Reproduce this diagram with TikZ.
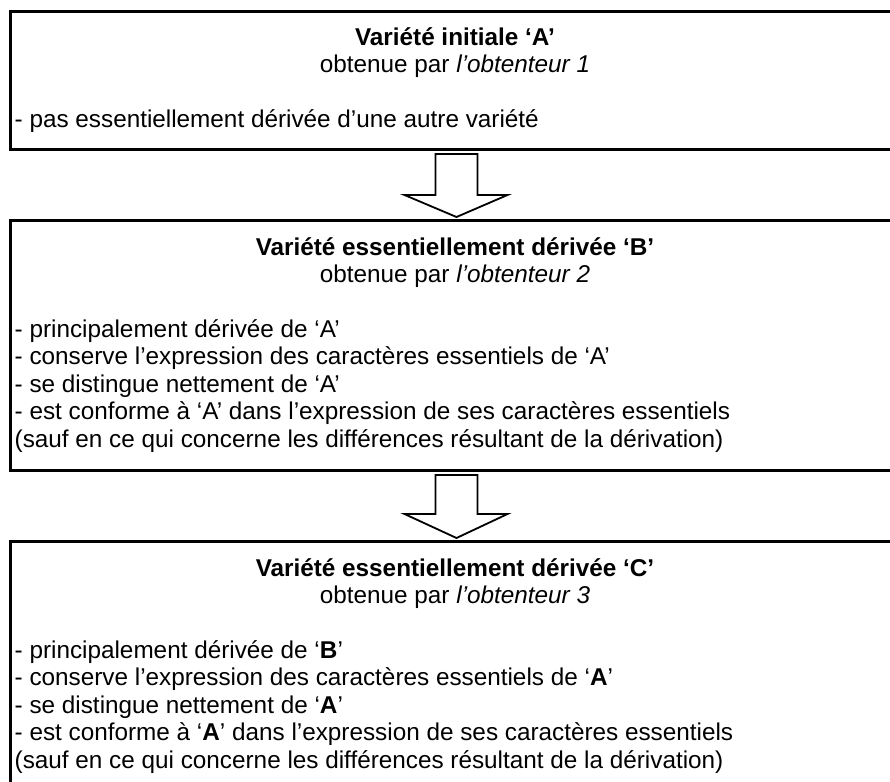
\documentclass[tikz,border=0pt]{standalone}
\usepackage{fontspec}
\setmainfont{Liberation Sans}
\usetikzlibrary{calc}
\tikzset{
  varbox/.style={draw=black, line width=3pt, rectangle, minimum width=892pt, anchor=north west, inner sep=0pt},
  ttl/.style={anchor=base, inner sep=0pt, font=\fontsize{24.3}{28}\selectfont\bfseries},
  sub/.style={anchor=base, inner sep=0pt, font=\fontsize{24.3}{28}\selectfont},
  line/.style={anchor=base west, inner sep=0pt, font=\fontsize{24.3}{28}\selectfont},
  blockarrow/.style={draw=black, line width=1.8pt, fill=white, line join=miter}
}
\begin{document}
\begin{tikzpicture}[x=1pt,y=-1pt]
\useasboundingbox (0,0) rectangle (890,781);
\clip (0,0) rectangle (890,781);
\fill[white] (0,0) rectangle (890,781);
% boxes
\node[varbox, minimum height=138pt] (A) at (9,10) {};
\node[varbox, minimum height=250pt] (B) at (9,219) {};
\node[varbox, minimum height=270pt] (C) at (9,540) {};
% box A text
\node[ttl] (a1) at (455,46) {Variété initiale ‘A’};
\node[sub] (a2) at (455,73) {obtenue par \textit{l’obtenteur 1}};
\node[line] (a3) at (14.5,128) {- pas essentiellement dérivée d’une autre variété};
% box B text
\node[ttl] (b1) at (455,255) {Variété essentiellement dérivée ‘B’};
\node[sub] (b2) at (455,282) {obtenue par \textit{l’obtenteur 2}};
\node[line] (b3) at (14.5,337) {- principalement dérivée de ‘A’};
\node[line] (b4) at (14.5,364.5) {- conserve l’expression des caractères essentiels de ‘A’};
\node[line] (b5) at (14.5,392) {- se distingue nettement de ‘A’};
\node[line] (b6) at (14.5,419.5) {- est conforme à ‘A’ dans l’expression de ses caractères essentiels};
\node[line] (b7) at (14.5,447) {(sauf en ce qui concerne les différences résultant de la dérivation)};
% box C text
\node[ttl] (c1) at (455,576) {Variété essentiellement dérivée ‘C’};
\node[sub] (c2) at (455,603) {obtenue par \textit{l’obtenteur 3}};
\node[line] (c3) at (14.5,658) {- principalement dérivée de ‘\textbf{B}’};
\node[line] (c4) at (14.5,685.5) {- conserve l’expression des caractères essentiels de ‘\textbf{A}’};
\node[line] (c5) at (14.5,713) {- se distingue nettement de ‘\textbf{A}’};
\node[line] (c6) at (14.5,740.5) {- est conforme à ‘\textbf{A}’ dans l’expression de ses caractères essentiels};
\node[line] (c7) at (14.5,768) {(sauf en ce qui concerne les différences résultant de la dérivation)};
% block arrows
\draw[blockarrow] ($(A.south)+(-21,3)$) -- ($(A.south)+(21,3)$) -- ($(A.south)+(21,44)$)
  -- ($(A.south)+(51,44)$) -- ($(B.north)+(0,-2)$) -- ($(A.south)+(-52,44)$)
  -- ($(A.south)+(-21,44)$) -- cycle;
\draw[blockarrow] ($(B.south)+(-21,3)$) -- ($(B.south)+(21,3)$) -- ($(B.south)+(21,42)$)
  -- ($(B.south)+(51,42)$) -- ($(C.north)+(0,-2)$) -- ($(B.south)+(-52,42)$)
  -- ($(B.south)+(-21,42)$) -- cycle;
\end{tikzpicture}
\end{document}
